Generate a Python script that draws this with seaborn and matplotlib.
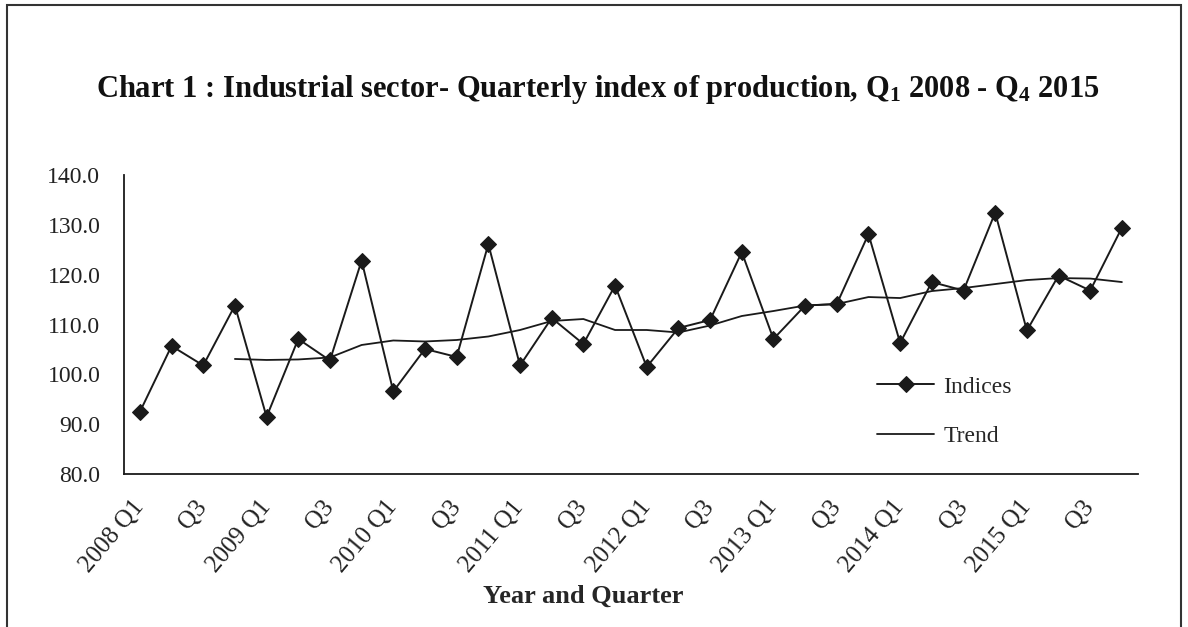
### Industrial sector quarterly index of production chart
## indices with trend line, Q1 2008 - Q4 2015

import matplotlib.pyplot as plt
import numpy as np
import pandas as pd
import seaborn as sns
from matplotlib.patches import Rectangle

## data
years = [2008, 2009, 2010, 2011, 2012, 2013, 2014, 2015]
quarters = ["Q1", "Q2", "Q3", "Q4"]
indices = [
    92.5, 105.7, 101.8, 113.8,
    91.5, 107.1, 102.8, 122.8,
    96.6, 105.1, 103.5, 126.1,
    101.8, 111.3, 106.1, 117.8,
    101.5, 109.3, 110.9, 124.5,
    107.1, 113.8, 114.1, 128.1,
    106.3, 118.5, 116.8, 132.4,
    108.8, 119.8, 116.8, 129.4,
]
# trend is only given from 2008 Q4 onwards
trend = [
    np.nan, np.nan, np.nan, 103.1,
    102.9, 103.0, 103.4, 105.9,
    106.8, 106.6, 106.9, 107.6,
    108.9, 110.7, 111.1, 108.9,
    108.9, 108.4, 109.8, 111.7,
    112.7, 113.8, 114.1, 115.5,
    115.3, 116.7, 117.3, 118.1,
    118.9, 119.3, 119.2, 118.5,
]
y_ticks = [80, 90, 100, 110, 120, 130, 140]

labels = [f"{y} {q}" for y in years for q in quarters]
df = pd.DataFrame({"period": labels, "Indices": indices, "Trend": trend})
df["pos"] = np.arange(len(df))

sns.set_style("white")
plt.rcParams["font.family"] = ["Liberation Serif", "DejaVu Serif"]
plt.rcParams["mathtext.fontset"] = "custom"
plt.rcParams["mathtext.rm"] = "Liberation Serif:bold"
plt.rcParams["mathtext.bf"] = "Liberation Serif:bold"

fig = plt.figure(figsize=(11.88, 6.27), dpi=100)
ax = fig.add_axes([0.1044, 0.2435, 0.8533, 0.4779])

ink = "#1a1a1a"
sns.lineplot(data=df, x="pos", y="Indices", ax=ax, color=ink, lw=1.4,
             marker="D", markersize=8, markeredgecolor=ink, label="Indices")
sns.lineplot(data=df, x="pos", y="Trend", ax=ax, color=ink, lw=1.3,
             label="Trend")

ax.set_xlim(-0.5, len(df) - 0.5)
ax.set_ylim(80, 140)
ax.set_yticks(y_ticks)
ax.set_yticklabels([f"{v:.1f}" for v in y_ticks], fontsize=17, color="#222")

# label every second quarter, ticks sit between categories
tick_pos = df["pos"][::2]
tick_lab = [lab if lab.endswith("Q1") else lab.split()[1] for lab in df["period"][::2]]
ax.set_xticks(tick_pos)
ax.set_xticklabels(tick_lab, rotation=50, ha="right", va="center",
                   rotation_mode="anchor", fontsize=18, color="#222")
ax.set_xticks(np.arange(-0.5, len(df)), minor=True)
ax.tick_params(axis="x", which="major", length=0, pad=21)
ax.tick_params(axis="x", which="minor", length=8, width=1.3, color=ink, direction="out")
ax.tick_params(axis="y", length=7, width=1.3, color=ink, direction="out", pad=10)

for side in ["top", "right"]:
    ax.spines[side].set_visible(False)
for side in ["left", "bottom"]:
    ax.spines[side].set_color(ink)
    ax.spines[side].set_linewidth(1.3)

ax.set_ylabel("")
ax.set_xlabel("Year and Quarter", fontsize=19, fontweight="bold")
ax.xaxis.set_label_coords(0.453, -0.368)

leg = ax.legend(loc="upper left", bbox_to_anchor=(0.743, 0.328), frameon=False,
                fontsize=17, handlelength=2.4, labelspacing=1.2, handletextpad=0.4,
                borderpad=0, borderaxespad=0)

fig.text(0.503, 0.858,
         r"Chart 1 : Industrial sector- Quarterly index of production, $\mathbf{Q_1}$ 2008 - $\mathbf{Q_4}$ 2015",
         ha="center", va="center", fontsize=22, fontweight="bold", color="#111")

# outer chart frame
fig.patches.append(Rectangle((7 / 1188, -0.1), 1174 / 1188, 1.1 - 5 / 627,
                             transform=fig.transFigure, fill=False,
                             edgecolor="#333", lw=1.5))

plt.savefig("out.png", dpi=100)
plt.close()
